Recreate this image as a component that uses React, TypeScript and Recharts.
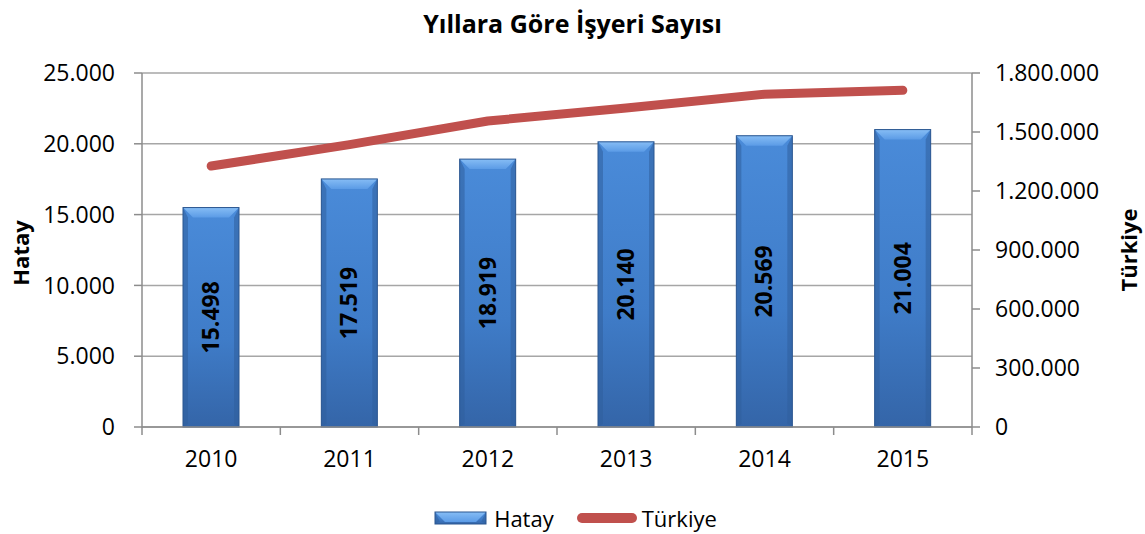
import {
  ComposedChart,
  Bar,
  Line,
  XAxis,
  YAxis,
  CartesianGrid,
  Legend,
  LabelList,
} from "recharts";

const years = ["2010", "2011", "2012", "2013", "2014", "2015"];
const hatay = [15498, 17519, 18919, 20140, 20569, 21004];
const turkiye = [1327000, 1436000, 1556000, 1622000, 1692000, 1712000];
const leftTicks = [0, 5000, 10000, 15000, 20000, 25000];
const rightTicks = [0, 300000, 600000, 900000, 1200000, 1500000, 1800000];

const data = years.map((year, i) => ({
  year,
  hatay: hatay[i],
  turkiye: turkiye[i],
}));

const FONT = "'Open Sans', sans-serif";
const AXIS = "#8c8c8c";
const RED = "#c0504d";

const fmt = (v: number) =>
  String(Math.round(v)).replace(/\B(?=(\d{3})+(?!\d))/g, ".");

const BevelBar = (props: any) => {
  const { x, y, width, height } = props;
  if (!height || height <= 0) return null;
  const b = Math.min(10, width / 4);
  return (
    <g>
      <rect x={x} y={y} width={width} height={height} fill="url(#barBody)" />
      <polygon
        points={`${x},${y} ${x + width},${y} ${x + width - b},${y + b} ${x + b},${y + b}`}
        fill="url(#barTop)"
      />
      <polygon
        points={`${x},${y} ${x + b * 0.5},${y + b} ${x + b * 0.5},${y + height - 3} ${x},${y + height}`}
        fill="#2f5e9c"
        opacity={0.55}
      />
      <polygon
        points={`${x + width},${y} ${x + width - b * 0.5},${y + b} ${x + width - b * 0.5},${y + height - 3} ${x + width},${y + height}`}
        fill="#2f5e9c"
        opacity={0.55}
      />
      <rect x={x} y={y} width={width} height={height} fill="none" stroke="#2b5690" strokeWidth={1} />
    </g>
  );
};

// category label plus the Excel-style tick marks between categories
const YearTick = (props: any) => {
  const { x, y, payload, index, visibleTicksCount } = props;
  const off = payload.offset || 0;
  const axisY = y - 24;
  return (
    <g>
      <line x1={x - off} y1={axisY} x2={x - off} y2={axisY + 8} stroke={AXIS} strokeWidth={1.5} />
      {index === visibleTicksCount - 1 && (
        <line x1={x + off} y1={axisY} x2={x + off} y2={axisY + 8} stroke={AXIS} strokeWidth={1.5} />
      )}
      <text x={x} y={y} dy="0.71em" textAnchor="middle" fill="#000" fontSize={23} fontFamily={FONT}>
        {payload.value}
      </text>
    </g>
  );
};

const AxisTitle = ({ x, y, text }: { x: number; y: number; text: string }) => (
  <text
    x={x}
    y={y}
    transform={`rotate(-90, ${x}, ${y})`}
    textAnchor="middle"
    dominantBaseline="central"
    fontFamily={FONT}
    fontWeight={700}
    fontSize={22}
    fill="#000"
  >
    {text}
  </text>
);

const renderLegend = () => (
  <div
    style={{
      display: "flex",
      justifyContent: "center",
      alignItems: "center",
      fontFamily: FONT,
      fontSize: 22,
      color: "#000",
    }}
  >
    <svg width={54} height={16} style={{ marginRight: 6, marginLeft: 6 }}>
      <BevelBar x={1} y={2} width={51} height={12} />
    </svg>
    <span style={{ marginRight: 22 }}>Hatay</span>
    <svg width={62} height={14} style={{ marginRight: 4 }}>
      <line x1={6} y1={7} x2={56} y2={7} stroke={RED} strokeWidth={10} strokeLinecap="round" />
    </svg>
    <span>Türkiye</span>
  </div>
);

export default function App() {
  return (
    <div style={{ position: "absolute", left: 0, top: 0, width: 1145, height: 534, background: "#fff" }}>
      <div
        style={{
          position: "absolute",
          top: 6,
          left: 0,
          width: 1145,
          textAlign: "center",
          fontFamily: FONT,
          fontWeight: 700,
          fontSize: 25,
          color: "#000",
        }}
      >
        Yıllara Göre İşyeri Sayısı
      </div>
      <ComposedChart
        width={1145}
        height={534}
        data={data}
        margin={{ top: 73, right: 0, left: 0, bottom: 47 }}
        style={{ fontFamily: FONT }}
      >
        <defs>
          <linearGradient id="barBody" x1="0" y1="0" x2="0" y2="1">
            <stop offset="0%" stopColor="#4a8bd9" />
            <stop offset="60%" stopColor="#3f7cc8" />
            <stop offset="100%" stopColor="#3465a8" />
          </linearGradient>
          <linearGradient id="barTop" x1="0" y1="0" x2="0" y2="1">
            <stop offset="0%" stopColor="#86bdf5" />
            <stop offset="100%" stopColor="#5b9be6" />
          </linearGradient>
        </defs>
        <CartesianGrid yAxisId="left" vertical={false} stroke="#a6a6a6" strokeWidth={1.5} />
        <XAxis
          dataKey="year"
          height={60}
          axisLine={{ stroke: AXIS, strokeWidth: 1.5 }}
          tickLine={false}
          tickSize={8}
          tickMargin={16}
          tick={YearTick}
          interval={0}
        />
        <YAxis
          yAxisId="left"
          width={142}
          domain={[0, 25000]}
          ticks={leftTicks}
          tickFormatter={fmt}
          axisLine={{ stroke: AXIS, strokeWidth: 1.5 }}
          tickLine={{ stroke: AXIS, strokeWidth: 1.5 }}
          tickSize={8}
          tickMargin={19}
          tick={{ fill: "#000", fontSize: 23 }}
          label={{ content: () => <AxisTitle x={20} y={253} text="Hatay" /> }}
        />
        <YAxis
          yAxisId="right"
          orientation="right"
          width={173}
          domain={[0, 1800000]}
          ticks={rightTicks}
          tickFormatter={fmt}
          axisLine={{ stroke: AXIS, strokeWidth: 1.5 }}
          tickLine={{ stroke: AXIS, strokeWidth: 1.5 }}
          tickSize={8}
          tickMargin={15}
          tick={{ fill: "#000", fontSize: 23 }}
          label={{ content: () => <AxisTitle x={1128} y={250} text="Türkiye" /> }}
        />
        <Bar
          yAxisId="left"
          dataKey="hatay"
          name="Hatay"
          barSize={56}
          shape={BevelBar}
          isAnimationActive={false}
        >
          <LabelList
            dataKey="hatay"
            position="center"
            angle={-90}
            formatter={(v: any) => fmt(Number(v))}
            style={{ fontWeight: 700, fontSize: 23, fill: "#000" }}
          />
        </Bar>
        <Line
          yAxisId="right"
          dataKey="turkiye"
          name="Türkiye"
          stroke={RED}
          strokeWidth={9}
          strokeLinecap="round"
          strokeLinejoin="round"
          dot={false}
          activeDot={false}
          type="linear"
          isAnimationActive={false}
        />
        <Legend
          layout="vertical"
          align="center"
          verticalAlign="middle"
          wrapperStyle={{ top: 503, left: 0, width: 1145 }}
          content={renderLegend}
        />
      </ComposedChart>
    </div>
  );
}
